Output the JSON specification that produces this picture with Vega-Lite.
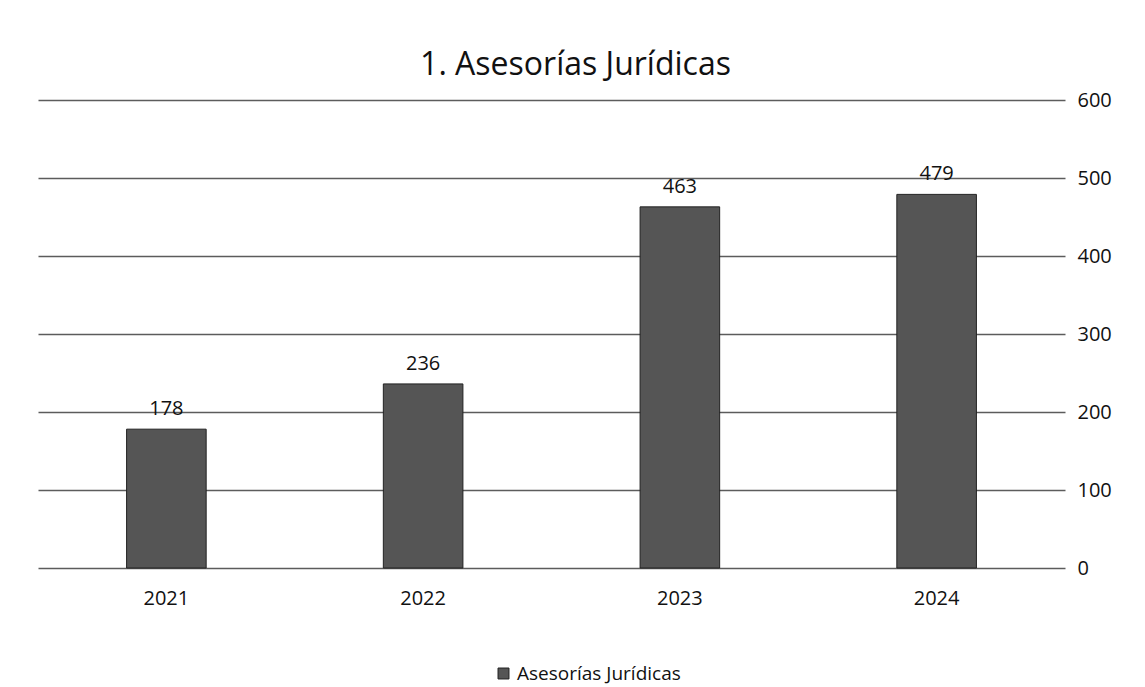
{
  "$schema": "https://vega.github.io/schema/vega-lite/v6.json",
  "width": 1027,
  "height": 468,
  "autosize": {"type": "none"},
  "padding": {"left": 38, "top": 100, "right": 80, "bottom": 119},
  "background": "white",
  "title": {
    "text": "1. Asesorías Jurídicas",
    "fontSize": 32,
    "font": "Open Sans",
    "fontWeight": "normal",
    "color": "#111111",
    "offset": 8,
    "dx": 24
  },
  "data": {
    "values": [
      {"year": "2021", "value": 178, "series": "Asesorías Jurídicas"},
      {"year": "2022", "value": 236, "series": "Asesorías Jurídicas"},
      {"year": "2023", "value": 463, "series": "Asesorías Jurídicas"},
      {"year": "2024", "value": 479, "series": "Asesorías Jurídicas"}
    ]
  },
  "config": {
    "view": {"stroke": null},
    "font": "Open Sans"
  },
  "encoding": {
    "x": {
      "field": "year",
      "type": "nominal",
      "scale": {"paddingInner": 0.69, "paddingOuter": 0.345},
      "axis": {
        "title": null,
        "labelAngle": 0,
        "ticks": false,
        "domain": false,
        "labelPadding": 20,
        "labelFontSize": 20,
        "labelColor": "#111111",
        "labelFont": "Open Sans"
      }
    },
    "y": {
      "field": "value",
      "type": "quantitative",
      "scale": {"domain": [0, 600]},
      "axis": {
        "orient": "right",
        "title": null,
        "values": [0, 100, 200, 300, 400, 500, 600],
        "ticks": false,
        "domain": false,
        "grid": true,
        "gridColor": "#333333",
        "gridWidth": 1.3,
        "gridOpacity": 0.8,
        "labelPadding": 12,
        "labelFontSize": 20,
        "labelColor": "#111111",
        "labelFont": "Open Sans"
      }
    }
  },
  "layer": [
    {
      "mark": {"type": "bar", "stroke": "#222222", "strokeWidth": 1},
      "encoding": {
        "color": {
          "field": "series",
          "type": "nominal",
          "scale": {"range": ["#555555"]},
          "legend": {
            "title": null,
            "orient": "none",
            "legendX": 456,
            "legendY": 564,
            "symbolType": "square",
            "symbolSize": 120,
            "symbolStrokeColor": "#222222",
            "symbolStrokeWidth": 1,
            "labelOffset": 4,
            "labelLimit": 400,
            "labelFontSize": 19,
            "labelColor": "#111111",
            "labelFont": "Open Sans"
          }
        }
      }
    },
    {
      "mark": {"type": "text", "dy": -20, "fontSize": 20, "color": "#111111", "font": "Open Sans"},
      "encoding": {
        "text": {"field": "value", "type": "quantitative"}
      }
    }
  ]
}
